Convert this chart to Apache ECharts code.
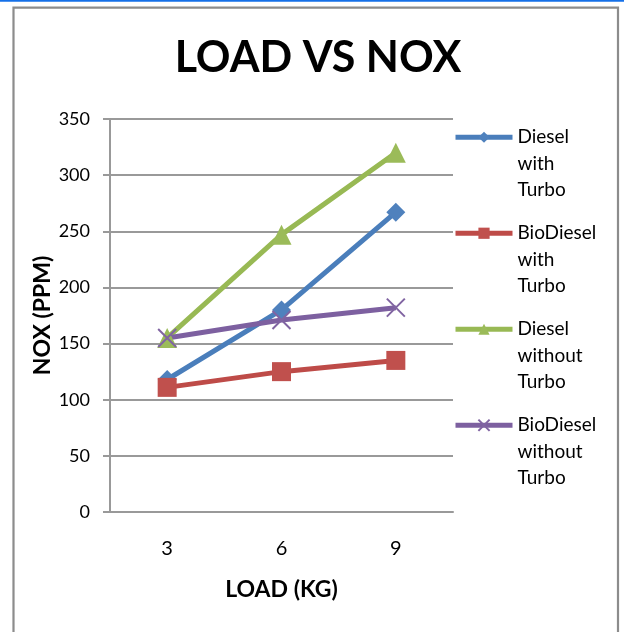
<!DOCTYPE html>
<html>
<head>
<meta charset="utf-8">
<script src="https://cdn.jsdelivr.net/npm/echarts@6/dist/echarts.min.js"></script>
<style>
html,body{margin:0;padding:0;background:#fff;}
#chart{width:624px;height:632px;}
</style>
</head>
<body>
<div id="chart"></div>
<script>
const categories = ['3', '6', '9'];
const dieselTurbo = [118, 180, 267];
const bioDieselTurbo = [111, 125, 135];
const dieselNoTurbo = [155, 247, 320];
const bioDieselNoTurbo = [155, 171, 182];
const seriesNames = ['Diesel\nwith\nTurbo', 'BioDiesel\nwith\nTurbo', 'Diesel\nwithout\nTurbo', 'BioDiesel\nwithout\nTurbo'];

const FONT = 'Lato';
const chart = echarts.init(document.getElementById('chart'), null, {renderer: 'canvas'});

function lineSeries(name, data, color, lineColor, symbol, size, extraItem) {
  return {
    name: name,
    type: 'line',
    data: data,
    symbol: symbol,
    symbolSize: size,
    lineStyle: {color: lineColor, width: 5},
    itemStyle: Object.assign({color: color}, extraItem || {}),
    emphasis: {disabled: true}
  };
}

chart.setOption({
  animation: false,
  backgroundColor: '#fff',
  title: {
    text: 'LOAD VS NOX',
    left: 318,
    textAlign: 'center',
    top: 37,
    padding: 0,
    textStyle: {fontFamily: FONT, fontWeight: 'bold', fontSize: 43, color: '#000'}
  },
  legend: {
    orient: 'vertical',
    left: 453,
    top: 71,
    padding: 0,
    itemGap: -36.5,
    itemWidth: 57,
    itemHeight: 14,
    data: seriesNames,
    lineStyle: {width: 5},
    formatter: function (name) { return '\n\n' + name; },
    textStyle: {fontFamily: FONT, fontSize: 19, color: '#000', lineHeight: 26.5}
  },
  grid: {left: 110, right: 171, top: 119, bottom: 120},
  xAxis: {
    type: 'category',
    data: categories,
    boundaryGap: true,
    name: 'LOAD (KG)',
    nameLocation: 'middle',
    nameGap: 66,
    nameMoveOverlap: false,
    nameTextStyle: {fontFamily: FONT, fontWeight: 'bold', fontSize: 23, color: '#000'},
    axisLine: {lineStyle: {color: '#999', width: 2}},
    axisTick: {show: false},
    axisLabel: {fontFamily: FONT, fontSize: 20, color: '#000', margin: 27}
  },
  yAxis: {
    type: 'value',
    min: 0,
    max: 350,
    interval: 50,
    name: 'NOX (PPM)',
    nameLocation: 'middle',
    nameRotate: 90,
    nameGap: 56,
    nameMoveOverlap: false,
    nameTextStyle: {fontFamily: FONT, fontWeight: 'bold', fontSize: 23, color: '#000'},
    axisLine: {show: true, lineStyle: {color: '#999', width: 2}},
    axisTick: {show: true, length: 7, lineStyle: {color: '#999', width: 2}},
    splitLine: {show: true, lineStyle: {color: '#999', width: 2}},
    axisLabel: {fontFamily: FONT, fontSize: 18, color: '#000', margin: 20}
  },
  series: [
    lineSeries(seriesNames[0], dieselTurbo, '#4F81BD', '#4A7EBB', 'diamond', 19),
    lineSeries(seriesNames[1], bioDieselTurbo, '#C0504D', '#BE4B48', 'rect', 19),
    lineSeries(seriesNames[2], dieselNoTurbo, '#9BBB59', '#98B954', 'triangle', 20),
    lineSeries(seriesNames[3], bioDieselNoTurbo, '#8064A2', '#7D60A0', 'path://M0,0L10,10M0,10L10,0', 18, {borderColor: '#8064A2', borderWidth: 2})
  ],
  graphic: [
    {type: 'rect', shape: {x: 0, y: 0, width: 624, height: 1.7}, style: {fill: '#1570e8'}, silent: true},
    {type: 'rect', shape: {x: 13.5, y: 7.7, width: 604.5, height: 640}, style: {fill: null, stroke: '#8c8c8c', lineWidth: 2.2}, silent: true}
  ]
});
</script>
</body>
</html>
